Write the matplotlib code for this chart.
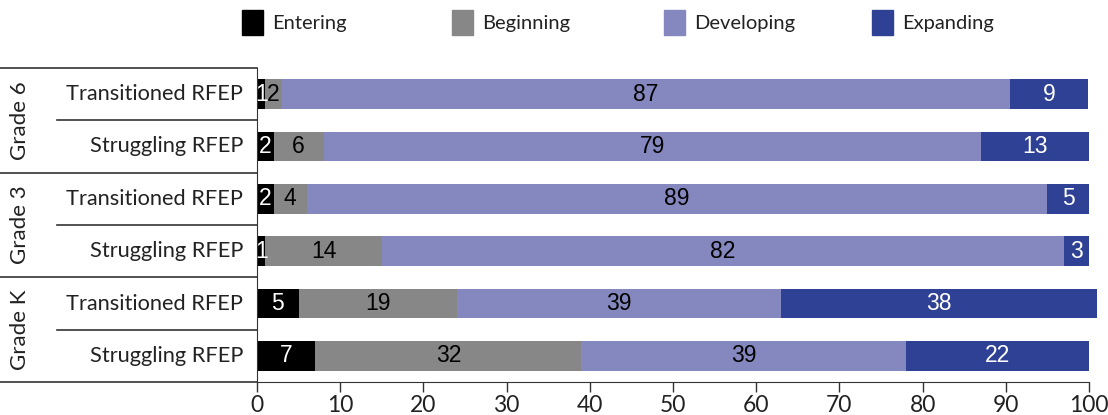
import numpy as np
import matplotlib.pyplot as plt
from matplotlib.patches import Rectangle
from matplotlib.lines import Line2D

# rows top -> bottom
grades = ["Grade 6", "Grade 3", "Grade K"]
rows = ["Transitioned RFEP", "Struggling RFEP"] * 3
levels = ["Entering", "Beginning", "Developing", "Expanding"]
colors = ["#000000", "#878787", "#8488bf", "#2f4195"]
text_colors = ["white", "black", "black", "white"]

# percentages (unrounded where the bar length shows it)
entering = [1.0, 2, 2, 1, 5, 7]
beginning = [2.0, 6, 4, 14, 19, 32]
developing = [87.45, 79, 89, 82, 39, 39]
expanding = [9.45, 13, 5, 3, 38, 22]

label_font = ["Lato", "DejaVu Sans"]
num_font = ["Liberation Sans", "DejaVu Sans"]

fig = plt.figure(figsize=(11.08, 4.15), dpi=100)
W, H = 1108, 415
ax = fig.add_axes([257 / W, 1 - 382 / H, (1089 - 257) / W, (382 - 68) / H])

series = [entering, beginning, developing, expanding]
ypos = np.arange(len(rows))
left = np.zeros(len(rows))
for vals, col, tcol in zip(series, colors, text_colors):
    vals = np.array(vals, dtype=float)
    bars = ax.barh(ypos, vals, left=left, color=col, height=0.57,
                   clip_on=False)
    for b, v in zip(bars, vals):
        ax.text(b.get_x() + b.get_width() / 2, b.get_y() + b.get_height() / 2,
                f"{v:.0f}", ha="center", va="center", color=tcol,
                fontsize=16.5, family=num_font)
    left += vals

ax.set_xlim(0, 100)
ax.set_ylim(len(rows) - 0.5, -0.5)
ax.set_xticks(np.arange(0, 101, 10))
ax.tick_params(axis="x", length=7, width=1, color="#333333", pad=2,
               labelsize=16.5)
for lbl in ax.get_xticklabels():
    lbl.set_family(label_font)
    lbl.set_color("#222222")
ax.set_yticks([])
for s in ["top", "right"]:
    ax.spines[s].set_visible(False)
ax.spines["left"].set_color("#333333")
ax.spines["bottom"].set_color("#333333")

# row labels
row_h = 314 / 6
for i, r in enumerate(rows):
    y = 1 - (68 + (i + 0.5) * row_h) / H
    fig.text(243 / W, y, r, ha="right", va="center", fontsize=15.7,
             family=label_font, color="#222222")

# bracket lines and grade labels
for g in range(4):
    yy = 1 - (68 + g * 2 * row_h) / H
    fig.add_artist(Line2D([0, 257 / W], [yy, yy], color="#333333", lw=1.2))
for g in range(3):
    yy = 1 - (68 + (2 * g + 1) * row_h) / H
    fig.add_artist(Line2D([57 / W, 257 / W], [yy, yy], color="#333333",
                          lw=1.2))
    fig.text(20 / W, yy, grades[g], rotation=90, ha="center", va="center",
             fontsize=16, family=label_font, color="#222222")

# legend
leg_x = [242, 452, 664, 872]
for x, lev, col in zip(leg_x, levels, colors):
    fig.add_artist(Rectangle((x / W, 1 - 35 / H), 21 / W, 25 / H,
                             color=col, transform=fig.transFigure))
    fig.text((x + 30) / W, 1 - 23 / H, lev, ha="left", va="center",
             fontsize=14.5, family=label_font, color="#222222")

fig.savefig("out.png", dpi=100)
